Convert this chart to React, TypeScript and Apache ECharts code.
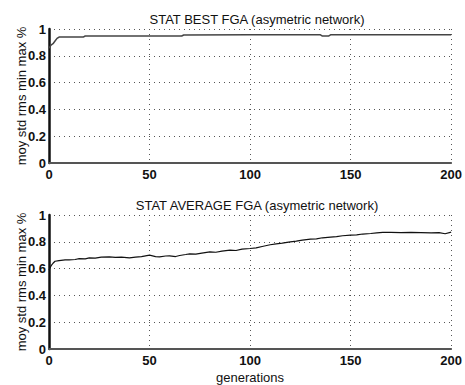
import React, { useEffect, useRef } from "react";
import * as echarts from "echarts";

const titles = ["STAT BEST FGA (asymetric network)", "STAT AVERAGE FGA (asymetric network)"];
const yAxisName = "moy std rms min max %";
const xAxisName = "generations";

// [generation, value]
const bestFga: [number, number][] = [
  [0, 0.857], [1, 0.88], [2, 0.89], [3, 0.91], [4, 0.93], [5, 0.94], [10, 0.94], [17, 0.94],
  [18, 0.948], [40, 0.948], [66, 0.948], [67, 0.955], [100, 0.957], [135, 0.957],
  [136, 0.947], [139, 0.947], [140, 0.957], [170, 0.957], [200, 0.957],
];

const averageFga: [number, number][] = [
  [0, 0.59], [1, 0.62], [2, 0.64], [3, 0.655], [5, 0.66], [8, 0.665], [10, 0.665], [13, 0.668],
  [15, 0.675], [18, 0.672], [20, 0.68], [23, 0.678], [26, 0.685], [30, 0.688], [33, 0.684],
  [36, 0.686], [40, 0.68], [43, 0.686], [46, 0.69], [50, 0.70], [53, 0.69], [55, 0.688],
  [58, 0.694], [60, 0.695], [63, 0.69], [65, 0.698], [68, 0.705], [70, 0.71], [73, 0.708],
  [76, 0.716], [80, 0.725], [83, 0.722], [86, 0.73], [90, 0.738], [93, 0.735], [96, 0.745],
  [100, 0.75], [103, 0.755], [106, 0.765], [110, 0.778], [113, 0.785], [116, 0.79],
  [120, 0.80], [123, 0.805], [126, 0.812], [130, 0.82], [133, 0.822], [136, 0.83],
  [140, 0.835], [143, 0.838], [146, 0.845], [150, 0.85], [153, 0.852], [156, 0.858],
  [160, 0.862], [163, 0.866], [166, 0.87], [170, 0.87], [175, 0.868], [180, 0.87],
  [185, 0.868], [190, 0.866], [194, 0.868], [197, 0.86], [200, 0.872],
];

const font = "'Liberation Sans', Arial, sans-serif";

export default function App() {
  const ref = useRef<HTMLDivElement>(null);
  useEffect(() => {
    const chart = echarts.init(ref.current!, null, { renderer: "svg" });
    const mkX = (idx: number) => ({
      type: "value" as const,
      gridIndex: idx,
      min: 0,
      max: 200,
      interval: 50,
      axisLine: { show: true, lineStyle: { color: "#555", width: 2 } },
      axisTick: { show: false },
      axisLabel: { color: "#111", fontSize: 13, fontFamily: font, margin: 5, fontWeight: "bold" as const },
      splitLine: { show: true, lineStyle: { type: [1, 4] as any, color: "#555", width: 1 } },
      ...(idx === 1
        ? { name: xAxisName, nameLocation: "middle" as const, nameGap: 22, nameMoveOverlap: false, nameTextStyle: { color: "#111", fontSize: 13, fontFamily: font } }
        : {}),
    });
    const mkY = (idx: number) => ({
      type: "value" as const,
      gridIndex: idx,
      min: 0,
      max: 1,
      interval: 0.2,
      name: yAxisName,
      nameLocation: "middle" as const,
      nameGap: 21,
      nameMoveOverlap: false,
      nameTextStyle: { color: "#111", fontSize: 13, fontFamily: font },
      axisLine: { show: true, lineStyle: { color: "#111", width: 2.5 } },
      axisTick: { show: false },
      axisLabel: { color: "#111", fontSize: 13, fontFamily: font, margin: 3, fontWeight: "bold" as const },
      splitLine: { show: true, lineStyle: { type: [1, 4] as any, color: "#555", width: 1 } },
    });
    chart.setOption({
      animation: false,
      backgroundColor: "#fff",
      title: [
        { text: titles[0], left: 252, top: 8, textAlign: "center", textStyle: { fontSize: 13, fontWeight: "normal", color: "#111", fontFamily: font } },
        { text: titles[1], left: 252, top: 194, textAlign: "center", textStyle: { fontSize: 13, fontWeight: "normal", color: "#111", fontFamily: font } },
      ],
      grid: [
        { left: 49, right: 12, top: 29, height: 134 },
        { left: 49, right: 12, top: 215, height: 134 },
      ],
      xAxis: [mkX(0), mkX(1)],
      yAxis: [mkY(0), mkY(1)],
      series: [
        {
          type: "line", xAxisIndex: 0, yAxisIndex: 0, data: bestFga, showSymbol: false,
          lineStyle: { color: "#444", width: 1.5 },
        },
        {
          type: "line", xAxisIndex: 1, yAxisIndex: 1, data: averageFga, showSymbol: false,
          lineStyle: { color: "#111", width: 1.2 },
        },
      ],
    });
    return () => chart.dispose();
  }, []);
  return <div ref={ref} style={{ width: 465, height: 385, position: "absolute", left: 0, top: 0 }} />;
}
